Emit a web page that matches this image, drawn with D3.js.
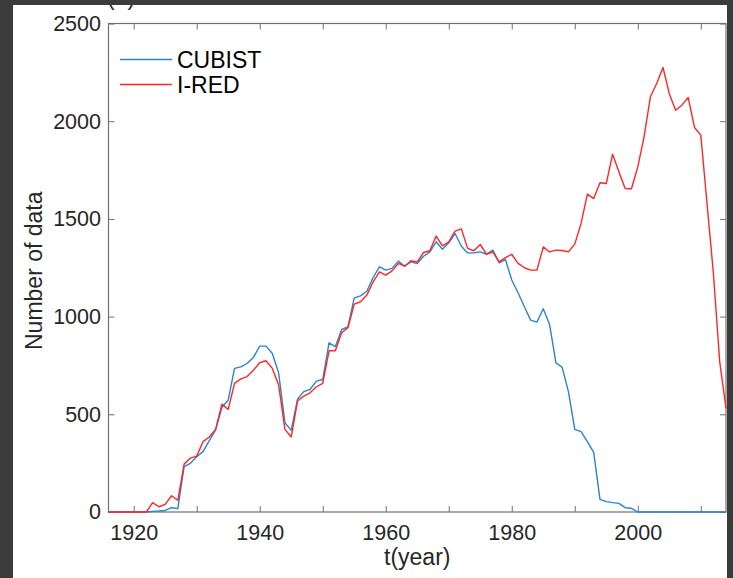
<!DOCTYPE html>
<html><head><meta charset="utf-8">
<script src="https://cdn.jsdelivr.net/npm/d3@7"></script>
<style>html,body{margin:0;padding:0;background:#fff;}svg{display:block;}</style>
</head><body>
<svg id="chart" width="733" height="578"></svg>
<script>
const years = [1916,1917,1918,1919,1920,1921,1922,1923,1924,1925,1926,1927,1928,1929,1930,1931,1932,1933,1934,1935,1936,1937,1938,1939,1940,1941,1942,1943,1944,1945,1946,1947,1948,1949,1950,1951,1952,1953,1954,1955,1956,1957,1958,1959,1960,1961,1962,1963,1964,1965,1966,1967,1968,1969,1970,1971,1972,1973,1974,1975,1976,1977,1978,1979,1980,1981,1982,1983,1984,1985,1986,1987,1988,1989,1990,1991,1992,1993,1994,1995,1996,1997,1998,1999,2000,2001,2002,2003,2004,2005,2006,2007,2008,2009,2010,2011,2012,2013,2014];
const cubist = [0,0,0,0,0,0,0,3,5,8,22,17,232,249,283,309,365,420,535,573,735,743,760,791,849,849,811,712,457,418,578,616,628,670,678,866,846,934,947,1096,1106,1130,1200,1255,1238,1247,1284,1258,1280,1272,1309,1331,1383,1345,1378,1425,1360,1326,1326,1331,1319,1340,1275,1292,1187,1122,1050,982,972,1040,960,764,740,615,423,411,360,305,65,53,48,44,22,19,0,0,0,0,0,0,0,0,0,0,0,0,0,0,0];
const ired = [0,0,0,0,0,0,0,48,27,39,83,60,245,276,286,360,384,423,552,525,658,681,693,726,764,774,735,650,423,384,568,593,610,641,658,825,825,917,943,1064,1076,1110,1178,1229,1212,1234,1272,1258,1286,1280,1328,1337,1412,1362,1383,1437,1449,1349,1337,1369,1319,1331,1280,1302,1319,1272,1250,1238,1238,1357,1331,1340,1338,1331,1371,1477,1627,1604,1685,1681,1831,1741,1655,1654,1766,1920,2125,2193,2275,2141,2056,2082,2121,1968,1929,1575,1222,770,530];
const seriesNames = ["CUBIST", "I-RED"];
const xTicks = [1920,1930,1940,1950,1960,1970,1980,1990,2000,2010];
const xTickLabels = [1920,1940,1960,1980,2000];
const yTicks = [0,500,1000,1500,2000,2500];
const xDomain = [1916, 2014];
const yDomain = [0, 2500];
const xLabel = "t(year)";
const yLabel = "Number of data";
const panelLabel = "(a)";

const svg = d3.select("#chart");
const L = 108.5, R = 726, T = 23.5, B = 512;
const x = d3.scaleLinear().domain(xDomain).range([L, R]);
const y = d3.scaleLinear().domain(yDomain).range([B, T]);
const colors = {"CUBIST": "#2a84cf", "I-RED": "#ff2626"};
const axisColor = "#707070";
const textColor = "#262626";
const font = "'Liberation Sans', Arial, sans-serif";

// panel label (partly hidden by the frame, as in the reference)
svg.append("text").attr("x", 121).attr("y", 5).attr("text-anchor", "middle")
  .attr("font-family", font).attr("font-size", 23).attr("fill", textColor).text(panelLabel);

// axes via d3 axis generators (ticks inward)
function styleAxis(g) {
  g.select(".domain").remove();
  g.selectAll(".tick line").attr("stroke", axisColor).attr("stroke-width", 1);
  g.selectAll(".tick text").attr("font-family", font).attr("font-size", 21.5).attr("fill", textColor);
}
const fmt = d => xTickLabels.includes(d) ? String(d) : "";
svg.append("g").attr("transform", `translate(0,${B})`)
  .call(d3.axisBottom(x).tickValues(xTicks).tickFormat(fmt).tickSizeInner(-6).tickSizeOuter(0).tickPadding(13))
  .call(styleAxis);
svg.append("g").attr("transform", `translate(0,${T})`)
  .call(d3.axisTop(x).tickValues(xTicks).tickFormat("").tickSizeInner(-6).tickSizeOuter(0))
  .call(styleAxis);
svg.append("g").attr("transform", `translate(${L},0)`)
  .call(d3.axisLeft(y).tickValues(yTicks).tickFormat(d3.format("d")).tickSizeInner(-6).tickSizeOuter(0).tickPadding(7.5))
  .call(styleAxis);
svg.append("g").attr("transform", `translate(${R},0)`)
  .call(d3.axisRight(y).tickValues(yTicks).tickFormat("").tickSizeInner(-6).tickSizeOuter(0))
  .call(styleAxis);

// box
svg.append("rect").attr("x", L).attr("y", T).attr("width", R - L).attr("height", B - T)
  .attr("fill", "none").attr("stroke", axisColor).attr("stroke-width", 1.2);

// data lines (drawn over the axes)
const line = d3.line().x((d, i) => x(years[i])).y(d => y(d));
const plot = svg.append("g");
plot.append("path").datum(cubist).attr("d", line).attr("fill", "none")
  .attr("stroke", colors["CUBIST"]).attr("stroke-width", 1.4).attr("stroke-linejoin", "round");
plot.append("path").datum(ired).attr("d", line).attr("fill", "none")
  .attr("stroke", colors["I-RED"]).attr("stroke-width", 1.4).attr("stroke-linejoin", "round");

// axis labels
svg.append("text").attr("x", (L + R) / 2).attr("y", 565).attr("text-anchor", "middle")
  .attr("font-family", font).attr("font-size", 23).attr("fill", textColor).text(xLabel);
svg.append("text").attr("transform", `translate(42,${(T + B) / 2 + 3}) rotate(-90)`).attr("text-anchor", "middle")
  .attr("font-family", font).attr("font-size", 23).attr("fill", textColor).text(yLabel);

// legend
const lg = svg.append("g");
seriesNames.forEach((name, i) => {
  const yy = 59.5 + i * 25;
  lg.append("line").attr("x1", 120).attr("x2", 172).attr("y1", yy).attr("y2", yy)
    .attr("stroke", colors[name]).attr("stroke-width", 1.4);
  lg.append("text").attr("x", 177).attr("y", yy + 8).attr("font-family", font).attr("font-size", 23)
    .attr("fill", "#000").text(name);
});

// dark frame of the screenshot
const frame = "#3b3b3b";
svg.append("rect").attr("x", 0).attr("y", 0).attr("width", 733).attr("height", 5).attr("fill", frame);
svg.append("rect").attr("x", 0).attr("y", 0).attr("width", 13).attr("height", 578).attr("fill", frame);
svg.append("rect").attr("x", 727).attr("y", 0).attr("width", 6).attr("height", 578).attr("fill", frame);
</script>
</body></html>
